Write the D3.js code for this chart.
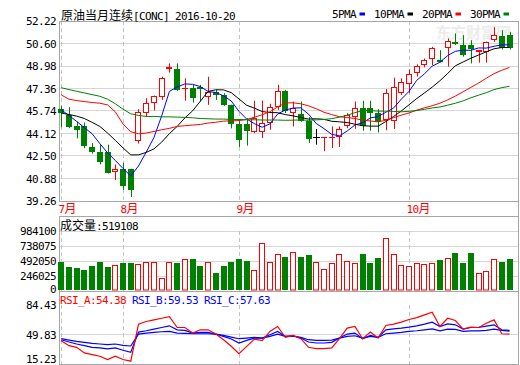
<!DOCTYPE html>
<html><head><meta charset="utf-8">
<script src="https://cdn.jsdelivr.net/npm/d3@7"></script>
<style>
body{margin:0;background:#fff;}
svg{display:block;}
</style></head><body>
<svg id="c" width="520" height="365"></svg>
<script>
// ---------------- data ----------------
const title = "原油当月连续[CONC] 2016-10-20";
const maNames = ["5PMA","10PMA","20PMA","30PMA"];
const months = ["7月","8月","9月","10月"];
const monthIdx = [0,8,23,45];
const priceTicks = [52.22,50.60,48.98,47.36,45.74,44.12,42.50,40.88,39.26];
const volTicks = [984100,738075,492050,246025,0];
const rsiTicks = [84.43,49.83,15.23];
const volLabel = "成交量:519108";
const rsiLabels = ["RSI_A:54.38","RSI_B:59.53","RSI_C:57.63"];

const opens = [45.90,45.42,44.63,44.63,43.17,42.77,42.77,41.36,41.53,41.53,
 43.56,45.59,46.30,46.78,48.74,48.76,47.31,47.38,47.45,46.73,
 47.11,46.88,46.18,44.82,44.82,44.20,44.23,44.87,46.06,47.19,
 45.59,45.54,44.99,43.84,43.82,43.82,43.87,44.63,45.30,45.94,
 45.94,45.59,45.06,45.01,47.07,47.66,48.45,49.02,49.45,49.38,
 50.31,50.74,50.48,50.48,49.98,50.00,50.84,51.17,51.20];
const highs = [46.11,46.02,44.97,44.92,43.44,43.32,43.32,41.89,42.01,41.58,
 45.87,46.66,46.85,48.21,49.17,49.17,48.09,47.62,47.62,48.21,
 47.26,47.02,46.20,45.11,45.23,46.47,46.49,46.26,47.62,47.26,
 46.42,46.42,45.30,44.44,43.87,44.63,44.63,45.59,46.42,46.47,
 46.47,45.87,47.31,48.14,48.09,48.74,49.10,49.52,50.36,50.12,
 50.96,51.32,51.20,50.84,50.14,50.74,51.77,51.56,51.44];
const lows = [44.56,44.50,43.77,43.06,42.67,41.89,41.24,40.76,40.05,39.55,
 43.39,45.30,45.78,46.54,48.50,47.20,46.49,46.35,46.42,46.18,
 46.54,46.11,44.49,43.15,43.25,44.15,43.80,44.39,45.83,45.59,
 44.63,44.97,43.44,43.32,42.84,43.08,43.15,44.51,44.46,44.32,
 44.32,44.20,44.35,44.44,46.90,47.02,48.21,48.88,49.05,49.22,
 48.93,50.50,49.65,49.17,49.22,49.22,50.72,50.17,50.17];
const closes = [45.63,44.56,44.35,43.20,42.77,42.05,41.29,41.58,40.33,40.05,
 45.66,46.30,46.83,48.09,48.88,47.26,47.38,46.68,47.31,47.11,
 46.88,46.18,44.82,43.63,44.27,45.25,44.87,46.02,47.19,45.71,
 45.94,44.99,43.72,43.84,43.87,43.87,44.46,45.47,45.99,44.68,
 45.59,44.97,47.02,47.50,47.86,48.38,48.98,49.38,50.24,49.26,
 50.79,50.55,49.76,50.19,50.12,50.72,51.22,50.24,50.24];
const volumes = [477000,394000,372000,339000,405000,471000,389000,422000,455000,455000,
 438000,471000,483000,207000,471000,455000,533000,521000,405000,483000,
 289000,405000,471000,521000,488000,351000,781000,483000,615000,554000,
 632000,554000,587000,471000,367000,455000,599000,499000,455000,604000,
 455000,538000,863000,604000,422000,405000,455000,438000,455000,504000,
 549000,620000,455000,620000,289000,334000,533000,476000,519108];
const ma5 = [45.83,45.42,44.99,44.54,44.10,43.39,42.73,42.18,41.60,41.06,
 41.78,42.78,43.83,45.39,47.15,47.47,47.69,47.66,47.50,47.15,
 47.07,46.83,46.46,45.72,45.16,44.83,44.57,44.81,45.52,45.81,
 45.95,45.97,45.51,44.84,44.47,44.06,43.95,44.30,44.73,44.89,
 45.24,45.34,45.65,45.95,46.59,47.15,47.95,48.42,48.97,49.25,
 49.73,50.04,50.12,50.11,50.28,50.27,50.40,50.50,50.51];
const ma10 = [45.59,45.49,45.37,45.20,44.92,44.63,44.15,43.63,43.08,42.58,
 42.58,42.76,43.01,43.50,44.11,44.63,45.24,45.75,46.44,47.15,
 47.27,47.26,47.06,46.61,46.15,45.95,45.70,45.63,45.62,45.48,
 45.39,45.27,45.16,45.18,45.14,45.00,44.96,44.91,44.79,44.68,
 44.65,44.65,44.98,45.34,45.74,46.19,46.64,47.04,47.46,47.92,
 48.44,49.00,49.27,49.54,49.77,50.00,50.22,50.31,50.31];
const ma20 = [46.90,46.59,46.49,46.42,46.35,46.30,46.18,45.68,44.80,44.25,
 44.10,44.15,44.27,44.39,44.49,44.63,44.68,44.73,44.77,44.87,
 44.93,45.01,45.03,45.05,45.13,45.29,45.47,45.69,46.03,46.32,
 46.33,46.26,46.11,45.90,45.65,45.48,45.33,45.27,45.20,45.08,
 45.02,44.96,45.07,45.26,45.44,45.60,45.80,45.97,46.12,46.30,
 46.54,46.82,47.12,47.44,47.75,48.10,48.43,48.67,48.88];
const ma30 = [47.42,47.28,47.16,47.04,46.92,46.80,46.59,46.26,45.87,45.54,
 45.42,45.35,45.35,45.32,45.32,45.30,45.28,45.25,45.20,45.18,
 45.16,45.16,45.13,45.13,45.11,45.11,45.09,45.09,45.09,45.07,
 45.08,45.10,45.07,45.10,45.13,45.19,45.30,45.43,45.62,45.77,
 45.77,45.73,45.73,45.71,45.68,45.72,45.77,45.86,45.96,46.03,
 46.16,46.30,46.47,46.69,46.88,47.06,47.28,47.42,47.52];
const rsiA = [42.91,37.15,35.23,28.69,26.77,24.85,21.00,24.85,21.00,19.08,
 62.14,65.21,67.13,69.06,70.98,58.29,58.29,51.76,55.60,55.60,
 50.60,44.07,36.38,27.92,36.38,44.84,42.91,53.68,59.45,46.76,
 49.06,45.22,35.23,33.69,33.69,34.46,45.22,57.52,59.45,45.22,
 52.91,45.99,60.60,62.14,64.44,67.52,69.82,72.90,75.98,59.45,
 69.06,66.37,56.37,58.68,58.29,63.29,67.13,50.99,50.60];
const rsiB = [44.07,41.38,39.07,37.15,35.23,34.46,33.30,34.46,31.77,29.46,
 52.91,54.45,56.37,58.29,60.21,55.60,54.83,51.76,52.52,52.52,
 50.60,47.91,44.84,40.22,43.30,45.99,45.99,49.83,53.68,47.91,
 48.68,45.99,41.38,40.22,40.22,40.99,45.99,50.60,51.76,45.22,
 49.06,46.76,55.60,56.75,57.52,58.68,60.21,62.14,64.44,59.45,
 62.52,61.37,56.37,58.29,58.29,59.83,61.37,55.60,54.83];
const rsiC = [45.22,43.68,42.15,40.99,39.84,39.07,38.30,39.07,37.53,36.76,
 50.60,51.76,52.52,53.29,53.68,51.76,51.37,50.99,50.99,50.99,
 50.60,49.06,47.14,45.22,45.99,46.76,45.99,47.91,50.60,47.91,
 48.29,46.76,44.07,43.30,43.30,43.68,45.99,47.91,48.68,45.99,
 47.91,46.76,50.99,51.76,52.52,53.68,54.45,55.60,56.75,54.45,
 56.37,55.98,53.68,54.45,54.45,54.83,56.37,54.83,54.06];

// ---------------- styles ----------------
const RED="#ff0000", GREEN="#008000", BLUE="#0000ff", BLACK="#000000";
const maColors=[BLUE,BLACK,RED,GREEN];
const BORDER="#a6a6a6", GRID="#d6d6d6", DASH="#c4c4c4";
const MONO="'DejaVu Sans Mono','Liberation Mono',monospace";
const CJK="'Noto Sans CJK SC','Noto Sans',sans-serif";

const L=59, R=519;
const svg=d3.select("#c");
const n=closes.length;
const x=d3.scaleLinear().domain([0,n-1]).range([61.2,509.5]);
const yP=d3.scaleLinear().domain([39.26,52.22]).range([201,21]);
const yV=d3.scaleLinear().domain([0,984100]).range([291,231]);
const yR=d3.scaleLinear().domain([15.23,84.43]).range([364.5,305]);
const cx=i=>Math.round(x(i));

function monoStyle(s,size){return s.attr("font-family",MONO).attr("font-size",size).attr("letter-spacing",-(0.602*size-6).toFixed(2));}
function rich(g,str,xx,yy,color){
  const t=g.append("text").attr("x",xx).attr("y",yy).attr("fill",color);
  const runs=str.match(/[\u3000-\u9fff\uff00-\uffef]+|[^\u3000-\u9fff\uff00-\uffef]+/g);
  runs.forEach(r=>{
    const sp=t.append("tspan").text(r);
    if(/[\u3000-\u9fff\uff00-\uffef]/.test(r)) sp.attr("font-family",CJK).attr("font-size",12);
    else monoStyle(sp,11);
  });
  return t;
}

// watermark
svg.append("text").attr("x",436).attr("y",38).attr("font-family",CJK).attr("font-size",15)
  .attr("font-weight","bold").attr("fill","#ececec").text("东方财富网");

// ---------------- grids ----------------
function grid(scale,ticks){
  const g=svg.append("g").attr("transform",`translate(${L},0)`)
    .call(d3.axisLeft(scale).tickValues(ticks).tickSize(-(R-L)).tickFormat(""));
  g.select(".domain").remove();
  g.selectAll(".tick").attr("transform",d=>`translate(0,${Math.floor(scale(d))})`);
  g.selectAll("line").attr("stroke",GRID).attr("transform","translate(0,0.5)");
}
grid(yP,priceTicks.slice(1,-1));
grid(yV,volTicks.slice(0,-1));
grid(yR,rsiTicks.slice(1,-1));

const dashG=svg.append("g");
[[21,201],[231,291],[305,364]].forEach(([a,b])=>{
  dashG.selectAll(null).data(monthIdx).join("line")
    .attr("x1",d=>cx(d)+0.5).attr("x2",d=>cx(d)+0.5).attr("y1",a).attr("y2",b)
    .attr("stroke",DASH).attr("stroke-dasharray","4,3");
});

// ---------------- borders ----------------
const bord=svg.append("g").attr("stroke",BORDER).attr("fill","none");
bord.append("rect").attr("x",L+0.5).attr("y",21.5).attr("width",R-L-1).attr("height",180);
bord.append("rect").attr("x",L+0.5).attr("y",216.5).attr("width",R-L-1).attr("height",75);
bord.append("rect").attr("x",L+0.5).attr("y",291.5).attr("width",R-L-1).attr("height",73);
bord.append("line").attr("x1",R-0.5).attr("x2",R-0.5).attr("y1",201).attr("y2",217);

// ---------------- axis labels ----------------
function labels(scale,ticks,fmt,shiftLast){
  const g=svg.append("g").attr("transform","translate(56,0)")
    .call(d3.axisLeft(scale).tickValues(ticks).tickSize(0).tickPadding(0).tickFormat(fmt));
  g.select(".domain").remove();
  monoStyle(g.selectAll("text"),11).attr("fill","#000").attr("dy","0.36em");
  if(shiftLast) g.selectAll("text").filter(d=>d===ticks[ticks.length-1]).attr("y",shiftLast);
}
labels(yP,priceTicks,d3.format(".2f"),0);
labels(yV,volTicks,d3.format("d"),-2.5);
labels(yR,rsiTicks,d3.format(".2f"),-6);

const mg=svg.append("g");
months.forEach((m,k)=>rich(mg,m,cx(monthIdx[k])-2.5,212.5,RED));

rich(svg,title,61,19.5,BLACK);
let lx=332;
maNames.forEach((nm,k)=>{
  monoStyle(svg.append("text").attr("x",lx).attr("y",17.5).attr("fill","#000"),11).text(nm);
  svg.append("rect").attr("x",lx+nm.length*6+3.5).attr("y",12.5).attr("width",5.5).attr("height",3).attr("fill",maColors[k]);
  lx+=nm.length*6+18;
});
rich(svg,volLabel,60,229.5,BLACK);
const rl=svg.append("g");
rsiLabels.forEach((s,k)=>monoStyle(rl.append("text").attr("x",60+k*72).attr("y",304).attr("fill",k===0?RED:BLUE),11).text(s));

// ---------------- candles ----------------
const data=d3.range(n).map(i=>({i,o:opens[i],h:highs[i],l:lows[i],c:closes[i],v:volumes[i]}));
const cg=svg.append("g");
data.forEach(d=>{
  const xc=cx(d.i);
  const col=d.c>d.o?RED:(d.c<d.o?GREEN:BLACK);
  cg.append("line").attr("x1",xc+0.5).attr("x2",xc+0.5).attr("y1",yP(d.h)).attr("y2",yP(d.l)).attr("stroke",col);
  const yo=Math.round(yP(d.o)), yc=Math.round(yP(d.c));
  if(d.c>d.o){
    cg.append("rect").attr("x",xc-2.5).attr("y",yc+0.5).attr("width",5).attr("height",Math.max(yo-yc-1,0.01))
      .attr("fill","#fff").attr("stroke",RED);
  } else if(d.c<d.o){
    cg.append("rect").attr("x",xc-3).attr("y",yo).attr("width",6).attr("height",Math.max(yc-yo,1)).attr("fill",GREEN);
  } else {
    cg.append("line").attr("x1",xc-3).attr("x2",xc+4).attr("y1",yo+0.5).attr("y2",yo+0.5).attr("stroke",BLACK);
  }
});

const lineP=d3.line().x((v,i)=>x(i)).y(v=>yP(v));
[ma5,ma10,ma20,ma30].forEach((arr,k)=>{
  svg.append("path").attr("d",lineP(arr)).attr("fill","none").attr("stroke",maColors[k]).attr("stroke-width",1);
});

// ---------------- volume ----------------
const vg=svg.append("g");
data.forEach(d=>{
  const xc=cx(d.i), yt=Math.round(yV(d.v)), yb=Math.round(yV(0));
  if(d.c>=d.o){
    vg.append("rect").attr("x",xc-2.5).attr("y",yt+0.5).attr("width",5).attr("height",yb-yt-1.5)
      .attr("fill","#fff").attr("stroke",RED);
  } else {
    vg.append("rect").attr("x",xc-3).attr("y",yt).attr("width",6).attr("height",yb-yt-1).attr("fill",GREEN);
  }
});

// ---------------- RSI ----------------
const lineR=d3.line().x((v,i)=>x(i)).y(v=>yR(v));
[[rsiC,BLUE],[rsiB,BLUE],[rsiA,RED]].forEach(([arr,col])=>{
  svg.append("path").attr("d",lineR(arr)).attr("fill","none").attr("stroke",col).attr("stroke-width",1.2);
});
</script>
</body></html>
